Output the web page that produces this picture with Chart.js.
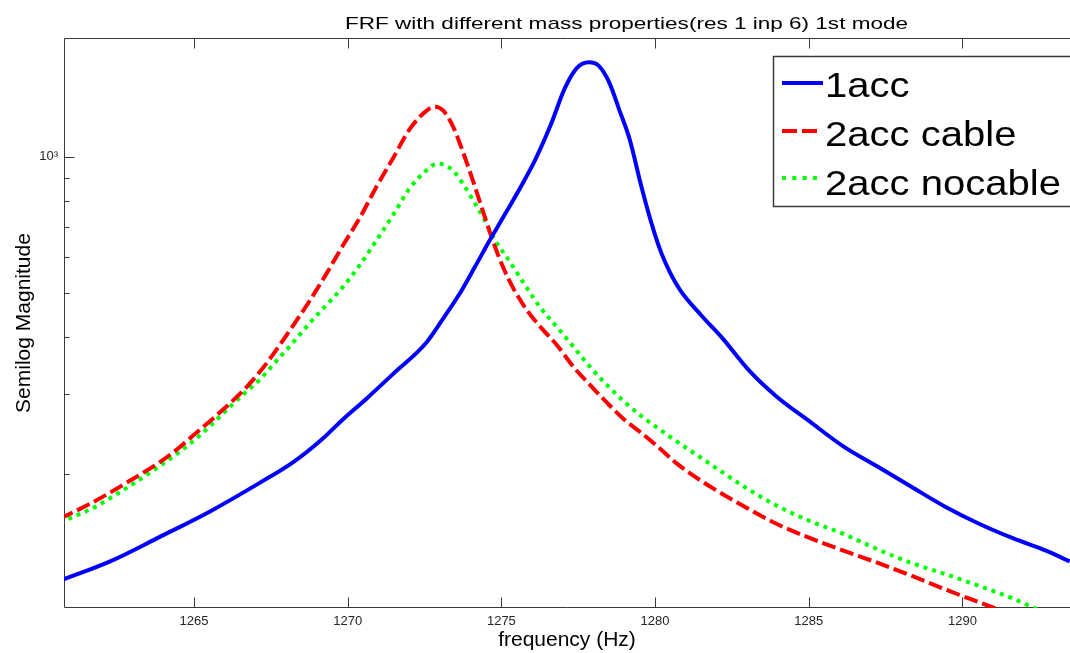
<!DOCTYPE html>
<html><head><meta charset="utf-8">
<script src="https://cdn.jsdelivr.net/npm/chart.js@4.4.1/dist/chart.umd.min.js"></script>
<style>html,body{margin:0;padding:0;background:#fff;overflow:hidden}#wrap{width:1070px;height:653px;position:relative}</style>
</head><body><div id="wrap"><canvas id="c" width="1070" height="653"></canvas></div>
<script>
const seriesNames = ['1acc', '2acc cable', '2acc nocable'];
const acc1Freq = [1260.64,1262.27,1263.89,1265.52,1267.15,1268.23,1269.10,1269.86,1270.62,1271.48,1272.57,1273.11,1273.65,1274.14,1274.63,1275.12,1275.61,1276.10,1276.58,1277.07,1277.46,1277.85,1278.17,1278.50,1278.86,1279.18,1279.54,1279.87,1280.19,1280.48,1280.81,1281.53,1282.19,1283.07,1283.95,1285.05,1286.15,1287.25,1288.34,1289.44,1290.54,1291.64,1292.74,1293.49];
const acc1Mag = [116,128,145,165,191,212,236,264,293,332,390,440,500,572,656,748,854,985,1165,1420,1572,1617,1588,1464,1257,1090,868,719,617,557,509,445,398,337,296,260,229,207,187,169,155,144,135,128];
const cableFreq = [1260.64,1261.72,1262.81,1263.89,1264.44,1264.98,1265.74,1266.60,1267.15,1267.69,1268.23,1268.77,1269.32,1269.86,1270.40,1270.94,1271.48,1272.03,1272.57,1272.84,1273.11,1273.44,1273.76,1274.09,1274.41,1274.74,1275.05,1275.38,1275.82,1276.26,1276.81,1277.36,1277.90,1278.45,1279.00,1279.55,1280.10,1280.65,1281.20,1281.75,1282.85,1283.95,1285.05,1286.15,1287.25,1288.34,1289.44,1290.54,1291.64];
const cableMag = [159,173,191,212,226,243,269,305,336,376,425,482,554,640,735,860,995,1155,1265,1291,1265,1162,1021,880,755,648,572,514,460,422,384,343,313,286,263,246,229,212,199,188,170,155,144,135,127,119,111,104,97.5];
const nocableFreq = [1260.64,1261.72,1262.81,1263.89,1264.98,1266.06,1266.60,1267.15,1267.69,1268.23,1268.77,1269.32,1269.86,1270.40,1270.94,1271.48,1272.03,1272.57,1272.90,1273.11,1273.44,1273.76,1274.09,1274.41,1274.79,1275.28,1275.82,1276.26,1276.81,1277.36,1277.90,1278.45,1279.00,1279.55,1280.65,1281.75,1282.85,1283.95,1285.05,1286.15,1287.25,1288.34,1289.44,1290.54,1291.64,1292.34,1293.20];
const nocableMag = [156,168,186,208,236,276,299,323,355,390,430,472,518,578,655,745,855,935,966,962,931,870,800,735,656,586,515,466,421,380,343,313,288,268,237,211,188,170,157,147,136,127,120,113,106,101,96];
const xTickValues = [1265, 1270, 1275, 1280, 1285, 1290];
const yTickValues = [200, 300, 400, 500, 600, 700, 800, 900, 1000];
const yMajorTicks = [1000];
const yMajorLabels = ['10³'];
const titleText = 'FRF with different mass properties(res 1 inp 6) 1st mode';
const xTitleText = 'frequency (Hz)';
const yTitleText = 'Semilog Magnitude';

const FONT = '"Liberation Sans", Arial, Helvetica, sans-serif';
Chart.defaults.font.family = FONT;

const pts = (fx, my) => fx.map((f, i) => ({x: f, y: my[i]}));
const colors = ['#0000ff', '#ff0000', '#00ff00'];
const dashes = [[], [14, 5], [4, 5]];

const framePlugin = {
  id: 'frame',
  beforeDatasetsDraw(chart) {
    const {ctx, chartArea: a, scales: {x, y}} = chart;
    ctx.save();
    ctx.strokeStyle = '#3a3a3a';
    ctx.lineWidth = 1;
    ctx.beginPath();
    const L = Math.round(a.left) + 0.5, T = Math.round(a.top) + 0.5, B = Math.round(a.bottom) - 0.5;
    ctx.moveTo(a.right + 2, T); ctx.lineTo(L, T); ctx.lineTo(L, B); ctx.lineTo(a.right + 2, B);
    xTickValues.forEach(v => {
      const px = Math.round(x.getPixelForValue(v)) + 0.5;
      ctx.moveTo(px, B); ctx.lineTo(px, B - 10);
      ctx.moveTo(px, T); ctx.lineTo(px, T + 10);
    });
    yTickValues.forEach(v => {
      const py = Math.round(y.getPixelForValue(v)) + 0.5;
      const len = yMajorTicks.includes(v) ? 10 : 5;
      ctx.moveTo(L, py); ctx.lineTo(L + len, py);
    });
    ctx.stroke();
    ctx.restore();
  },
  afterDraw(chart) {
    const {ctx} = chart;
    ctx.save();
    ctx.font = '17px ' + FONT;
    ctx.fillStyle = '#000';
    ctx.textBaseline = 'alphabetic';
    ctx.textAlign = 'left';
    const tw = ctx.measureText(titleText).width;
    const tsx = 563 / tw;
    ctx.translate(345, 29);
    ctx.scale(tsx, 1);
    ctx.fillText(titleText, 0, 0);
    ctx.restore();

    ctx.save();
    ctx.fillStyle = '#fff';
    ctx.fillRect(773.5, 56.5, 320, 150);
    ctx.strokeStyle = '#3a3a3a';
    ctx.lineWidth = 1.5;
    ctx.strokeRect(773.5, 56.5, 320, 150);
    const rowsLine = [83, 131, 178];
    const rowsBase = [97, 146, 195];
    const lineEnd = [823, 817, 817];
    ctx.font = '35px ' + FONT;
    const lsx = 236 / ctx.measureText(seriesNames[2]).width;
    seriesNames.forEach((name, i) => {
      ctx.save();
      ctx.strokeStyle = colors[i];
      ctx.lineWidth = 4;
      ctx.setLineDash(i === 1 ? [15, 5] : i === 2 ? [4, 6.3] : []);
      ctx.beginPath();
      ctx.moveTo(782, rowsLine[i]); ctx.lineTo(lineEnd[i], rowsLine[i]);
      ctx.stroke();
      ctx.restore();
      ctx.save();
      ctx.fillStyle = '#000';
      ctx.translate(825, rowsBase[i]);
      ctx.scale(lsx, 1);
      ctx.fillText(name, 0, 0);
      ctx.restore();
    });
    ctx.restore();
  }
};

new Chart(document.getElementById('c'), {
  type: 'line',
  data: {
    datasets: [
      {label: seriesNames[0], data: pts(acc1Freq, acc1Mag)},
      {label: seriesNames[1], data: pts(cableFreq, cableMag)},
      {label: seriesNames[2], data: pts(nocableFreq, nocableMag)}
    ].map((d, i) => Object.assign(d, {
      borderColor: colors[i], backgroundColor: colors[i], borderWidth: 4,
      borderDash: dashes[i], pointRadius: 0, fill: false,
      cubicInterpolationMode: 'monotone', borderCapStyle: 'butt'
    }))
  },
  options: {
    responsive: false, animation: false, devicePixelRatio: 1,
    layout: {padding: {top: 38, right: 0, left: 0, bottom: 0}},
    plugins: {legend: {display: false}, title: {display: false}, tooltip: {enabled: false}},
    scales: {
      x: {
        type: 'linear', min: 1260.77, max: 1293.5,
        afterBuildTicks: s => { s.ticks = xTickValues.map(v => ({value: v})); },
        afterFit: s => { s.height = 45; },
        grid: {display: false, drawTicks: false},
        border: {display: false},
        ticks: {autoSkip: false, maxRotation: 0, padding: 6, color: '#262626', font: {size: 13},
          callback: v => String(v)},
        title: {display: true, text: xTitleText, color: '#000', font: {size: 21}, padding: {top: 0, bottom: 0}}
      },
      y: {
        type: 'logarithmic', min: 101, max: 1830,
        afterBuildTicks: s => { s.ticks = yTickValues.map(v => ({value: v})); },
        afterFit: s => { s.width = 64; },
        grid: {display: false, drawTicks: false},
        border: {display: false},
        ticks: {autoSkip: false, padding: 6, color: '#262626', font: {size: 13},
          callback: v => { const k = yMajorTicks.indexOf(v); return k >= 0 ? yMajorLabels[k] : ''; }},
        title: {display: true, text: yTitleText, color: '#000', font: {size: 21}, padding: {top: 12, bottom: 0}}
      }
    }
  },
  plugins: [framePlugin]
});
</script></body></html>
